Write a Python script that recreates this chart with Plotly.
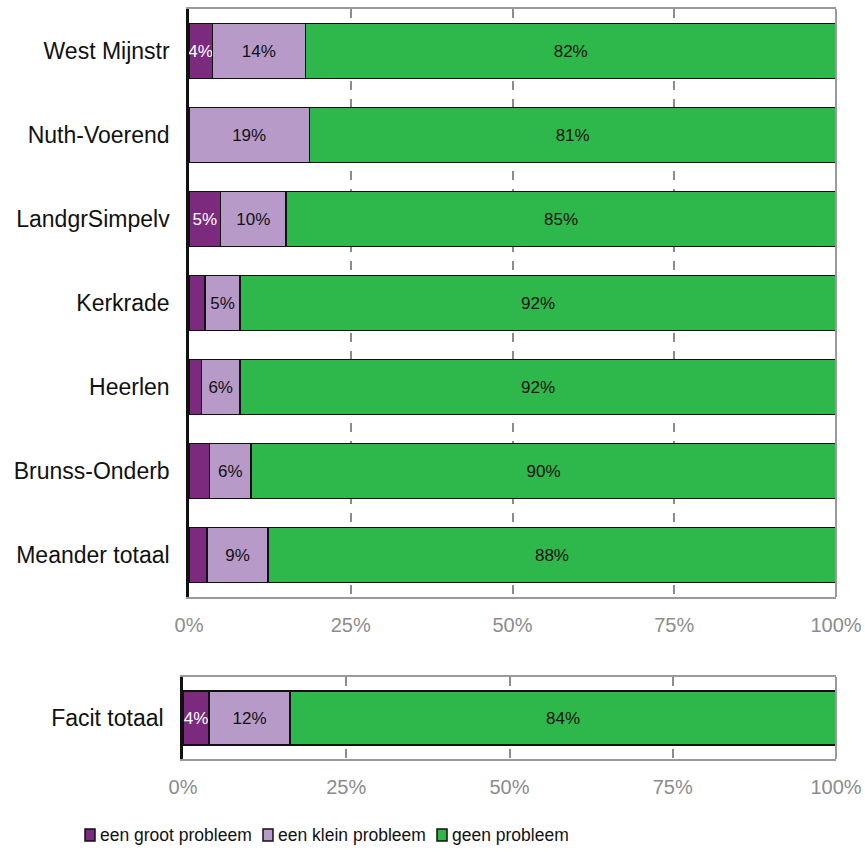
import plotly.graph_objects as go

categories = ["West Mijnstr", "Nuth-Voerend", "LandgrSimpelv", "Kerkrade", "Heerlen", "Brunss-Onderb", "Meander totaal"]
groot = [3.6, 0.0, 4.9, 2.5, 1.9, 3.2, 2.8]
klein = [14.4, 18.6, 10.1, 5.4, 6.0, 6.4, 9.4]
geen = [82.0, 81.4, 85.0, 92.1, 92.1, 90.4, 87.8]

facit_cat = ["Facit totaal"]
facit_groot = [4.0]
facit_klein = [12.4]
facit_geen = [83.6]

series_names = ["een groot probleem", "een klein probleem", "geen probleem"]
colors = ["#7B2A7E", "#B79AC8", "#2EB84B"]
text_colors = ["white", "#111111", "#111111"]
tick_vals = [0, 25, 50, 75, 100]
tick_text = ["0%", "25%", "50%", "75%", "100%"]

W, H = 865, 852
fig = go.Figure()

def lbl(vals):
    return [f"{round(v)}%" if v >= 3.5 else "" for v in vals]

top_series = [groot, klein, geen]
bot_series = [facit_groot, facit_klein, facit_geen]
for i in range(3):
    fig.add_trace(go.Bar(
        y=categories, x=top_series[i], orientation="h", name=series_names[i],
        marker=dict(color=colors[i], line=dict(color="#111111", width=1.5)),
        text=lbl(top_series[i]), textposition="inside", insidetextanchor="middle", textangle=0,
        textfont=dict(color=text_colors[i], size=17, family="Liberation Sans, Arial"),
        showlegend=False, xaxis="x", yaxis="y", hoverinfo="skip",
    ))
    fig.add_trace(go.Bar(
        y=facit_cat, x=bot_series[i], orientation="h", name=series_names[i],
        marker=dict(color=colors[i], line=dict(color="#111111", width=1.5)),
        text=lbl(bot_series[i]), textposition="inside", insidetextanchor="middle", textangle=0,
        textfont=dict(color=text_colors[i], size=17, family="Liberation Sans, Arial"),
        showlegend=False, xaxis="x2", yaxis="y2", hoverinfo="skip",
    ))

xcommon = dict(
    range=[0, 100], tickvals=tick_vals, ticktext=tick_text, automargin=False,
    tickfont=dict(size=20, color="#8C8C8C", family="Liberation Sans, Arial"),
    showgrid=True, gridcolor="#8C8C8C", griddash="dash", gridwidth=1.5,
    showline=True, linecolor="#9A9A9A", linewidth=2, mirror=True,
    ticks="outside", ticklen=9, tickcolor="rgba(0,0,0,0)", zeroline=False, fixedrange=True,
)
ycommon = dict(
    showline=True, linecolor="#111111", linewidth=2.5, ticks="outside", ticklen=12, automargin=False,
    tickcolor="rgba(0,0,0,0)", tickfont=dict(size=23, color="#111111", family="Liberation Sans, Arial"),
    showgrid=False, fixedrange=True,
)

# Legend drawn as square swatches and text labels below the charts
legend_x = [90, 268, 442]
legend_y = 835
shapes = [
    dict(type="line", xref="x domain", yref="y domain", x0=1, x1=1, y0=0, y1=1,
         line=dict(color="#9A9A9A", width=2)),
    dict(type="line", xref="x2 domain", yref="y2 domain", x0=1, x1=1, y0=0, y1=1,
         line=dict(color="#9A9A9A", width=2)),
]
annotations = []
for i in range(3):
    cx = legend_x[i]
    shapes.append(dict(type="rect", xref="paper", yref="paper",
                       x0=(cx - 5) / W, x1=(cx + 5) / W,
                       y0=1 - (legend_y + 6) / H, y1=1 - (legend_y - 6) / H,
                       fillcolor=colors[i], line=dict(color="#111111", width=1.5)))
    annotations.append(dict(xref="paper", yref="paper", x=(cx + 8) / W, y=1 - legend_y / H,
                            xanchor="left", yanchor="middle", showarrow=False,
                            text=series_names[i],
                            font=dict(size=17.5, color="#111111", family="Liberation Sans, Arial")))

fig.update_layout(
    width=W, height=H,
    margin=dict(l=0, r=0, t=0, b=0),
    paper_bgcolor="white", plot_bgcolor="white",
    barmode="stack", bargap=0.34, showlegend=False,
    uniformtext=dict(minsize=17, mode="show"),
    xaxis=dict(domain=[189 / W, 836 / W], anchor="y", **xcommon),
    yaxis=dict(domain=[1 - 597 / H, 1 - 9 / H], anchor="x", autorange="reversed",
               categoryorder="array", categoryarray=categories, **ycommon),
    xaxis2=dict(domain=[183 / W, 836 / W], anchor="y2", **xcommon),
    yaxis2=dict(domain=[1 - 759 / H, 1 - 677 / H], anchor="x2", **ycommon),
    shapes=shapes, annotations=annotations,
    font=dict(family="Liberation Sans, Arial"),
)

fig.write_html("out.html")
